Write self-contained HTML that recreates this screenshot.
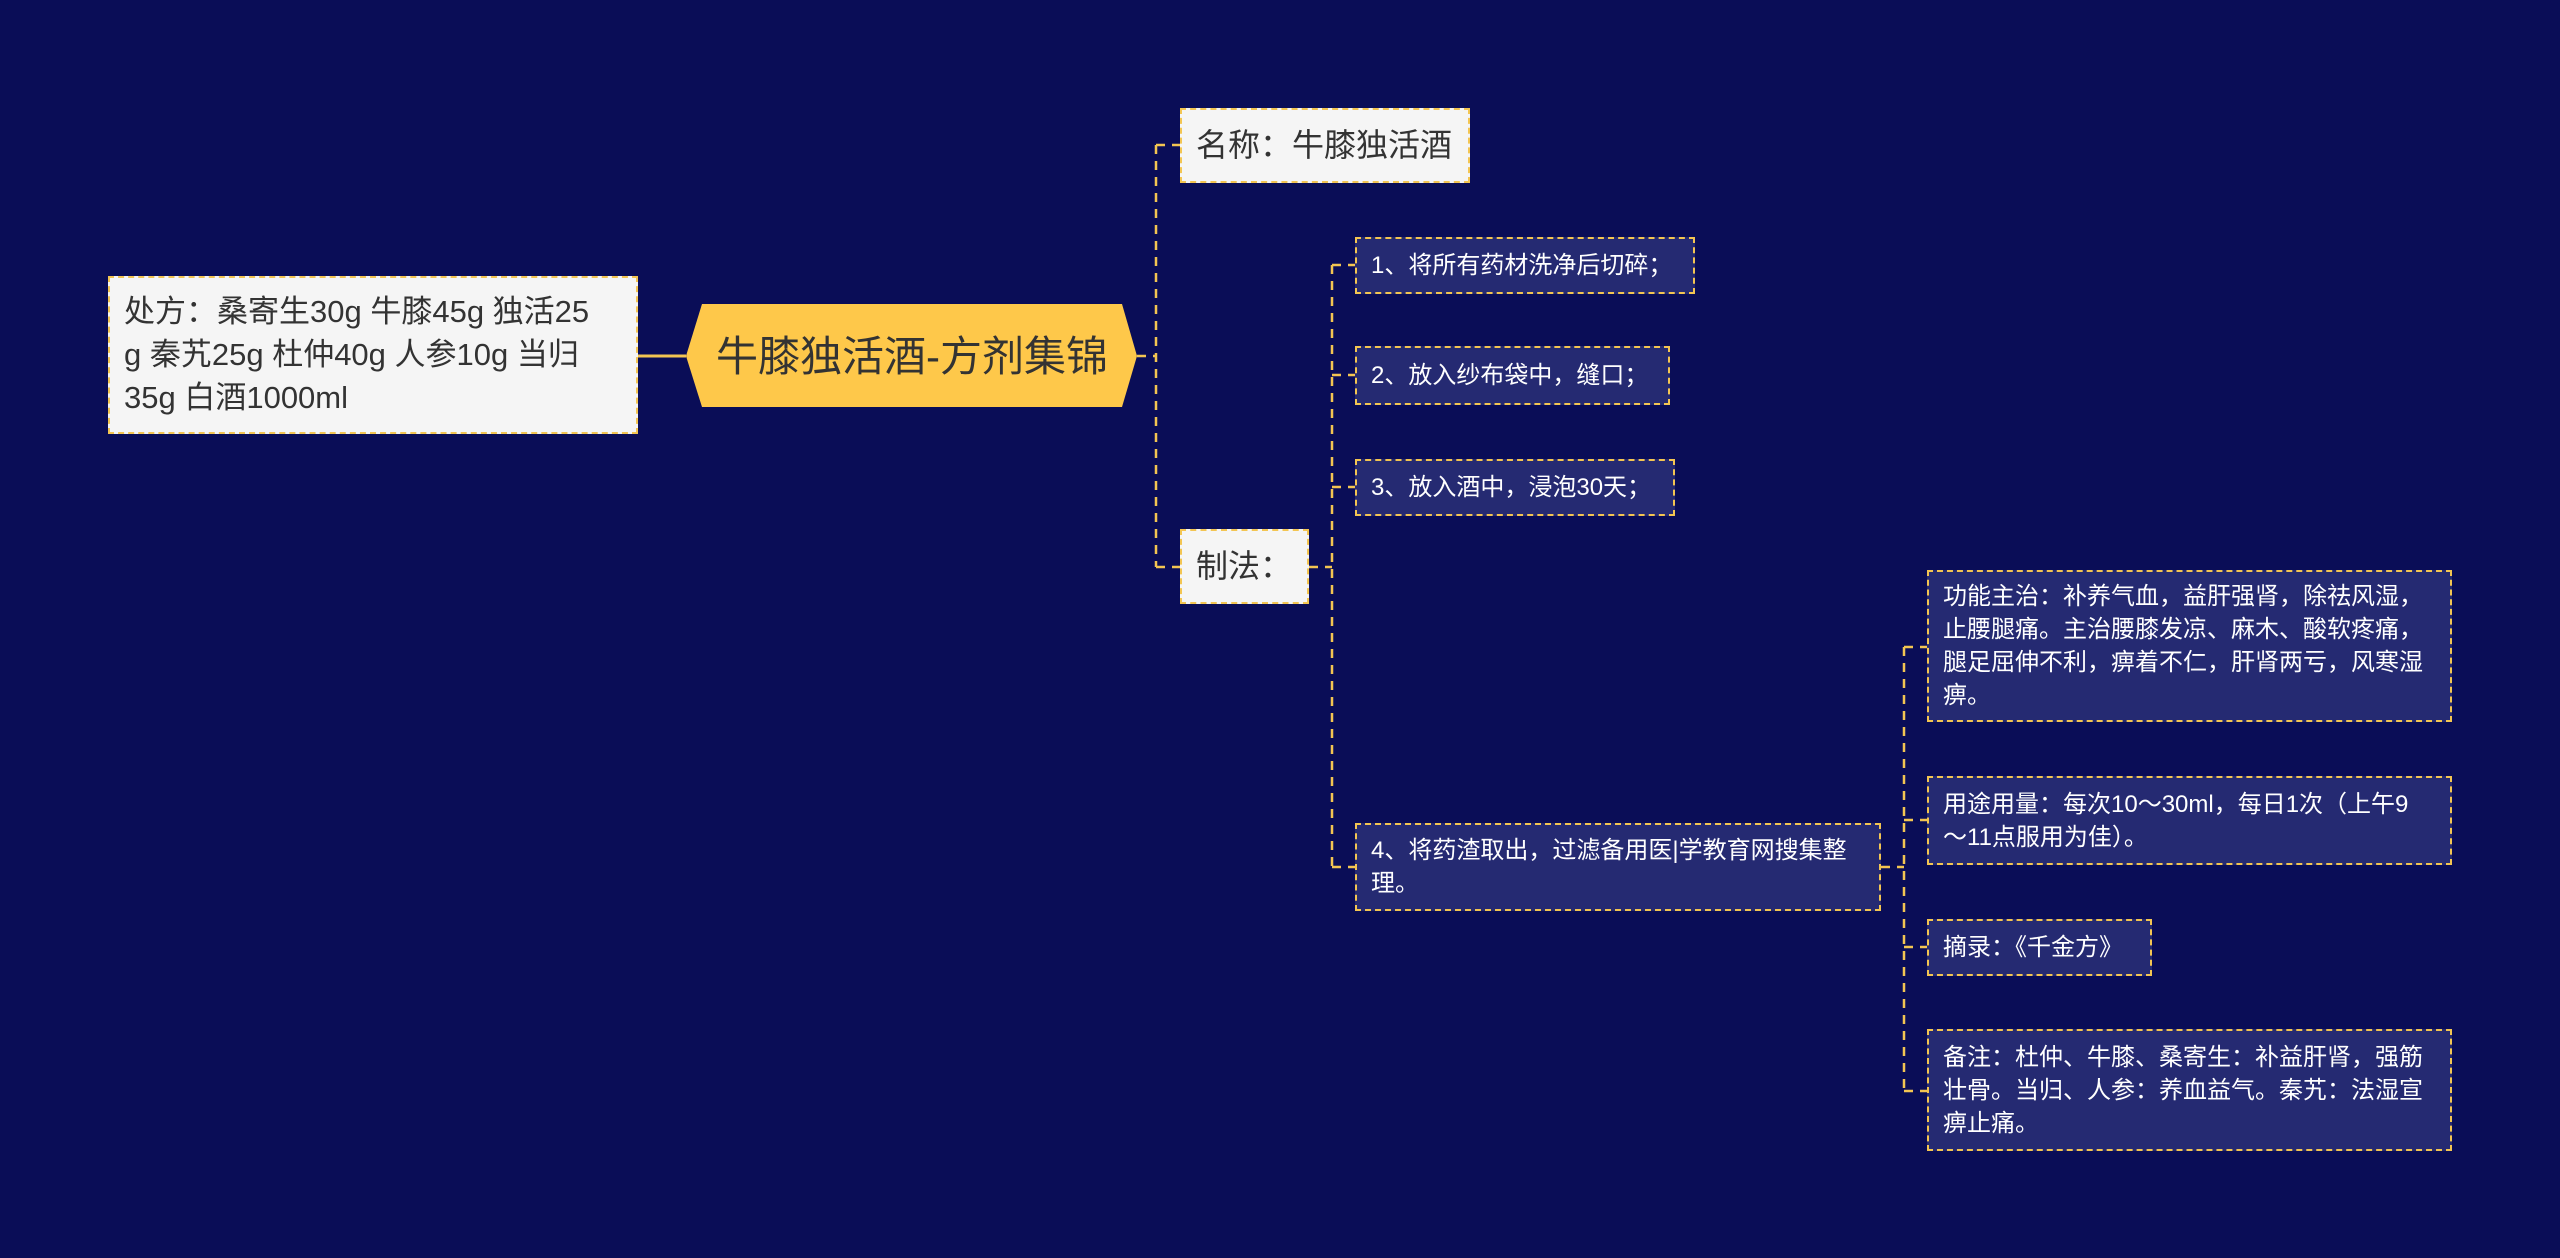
<!DOCTYPE html>
<html><head><meta charset="utf-8"><style>
body{margin:0;width:2560px;height:1258px;background:#0a0d57;position:relative;overflow:hidden;font-family:"Liberation Sans","Noto Sans CJK SC",sans-serif}
.b{position:absolute;box-sizing:border-box;border:2px dashed #f3c552;white-space:nowrap}
.w{background:#f5f5f5;color:#333;font-size:31px;line-height:43px;padding:0 14px;}
.d{background:#252a72;color:#fff;font-size:24px;line-height:33px;padding:0 14px;display:flex;align-items:center}
</style></head><body>
<svg width="2560" height="1258" style="position:absolute;left:0;top:0">
<g stroke="#f3c552" stroke-width="2.5" fill="none" stroke-dasharray="9,7">
<path d="M1137 356 H1156 M1156 145 V567 M1156 145 H1180 M1156 567 H1180"/>
<path d="M1309 567 H1332 M1332 265 V867 M1332 265 H1355 M1332 375 H1355 M1332 487 H1355 M1332 867 H1355"/>
<path d="M1881 867 H1904 M1904 647 V1091 M1904 647 H1927 M1904 820 H1927 M1904 947 H1927 M1904 1091 H1927"/>
</g>
<path d="M638 356 H686" stroke="#f3c552" stroke-width="3"/>
<polygon points="686,356 702,304 1122,304 1137,356 1122,407 702,407" fill="#fec84a"/>
<text x="912" y="371" text-anchor="middle" font-size="42" fill="#333" font-family="Liberation Sans,Noto Sans CJK SC,sans-serif">牛膝独活酒-方剂集锦</text>
</svg>
<div class="b w" style="left:108px;top:276px;width:530px;height:158px;padding-top:12px">处方：桑寄生30g 牛膝45g 独活25<br>g 秦艽25g 杜仲40g 人参10g 当归<br>35g 白酒1000ml</div>
<div class="b w" style="left:1180px;top:108px;width:290px;height:75px;line-height:71px;font-size:32px">名称：牛膝独活酒</div>
<div class="b w" style="left:1180px;top:529px;width:129px;height:75px;line-height:71px;font-size:32px">制法：</div>
<div class="b d" style="left:1355px;top:237px;width:340px;height:57px">1、将所有药材洗净后切碎；</div>
<div class="b d" style="left:1355px;top:346px;width:315px;height:59px">2、放入纱布袋中，缝口；</div>
<div class="b d" style="left:1355px;top:459px;width:320px;height:57px">3、放入酒中，浸泡30天；</div>
<div class="b d" style="left:1355px;top:823px;width:526px;height:88px">4、将药渣取出，过滤备用医|学教育网搜集整<br>理。</div>
<div class="b d" style="left:1927px;top:570px;width:525px;height:152px">功能主治：补养气血，益肝强肾，除祛风湿，<br>止腰腿痛。主治腰膝发凉、麻木、酸软疼痛，<br>腿足屈伸不利，痹着不仁，肝肾两亏，风寒湿<br>痹。</div>
<div class="b d" style="left:1927px;top:776px;width:525px;height:89px">用途用量：每次10～30ml，每日1次（上午9<br>～11点服用为佳）。</div>
<div class="b d" style="left:1927px;top:919px;width:225px;height:57px">摘录：《千金方》</div>
<div class="b d" style="left:1927px;top:1029px;width:525px;height:122px">备注：杜仲、牛膝、桑寄生：补益肝肾，强筋<br>壮骨。当归、人参：养血益气。秦艽：法湿宣<br>痹止痛。</div>
</body></html>
